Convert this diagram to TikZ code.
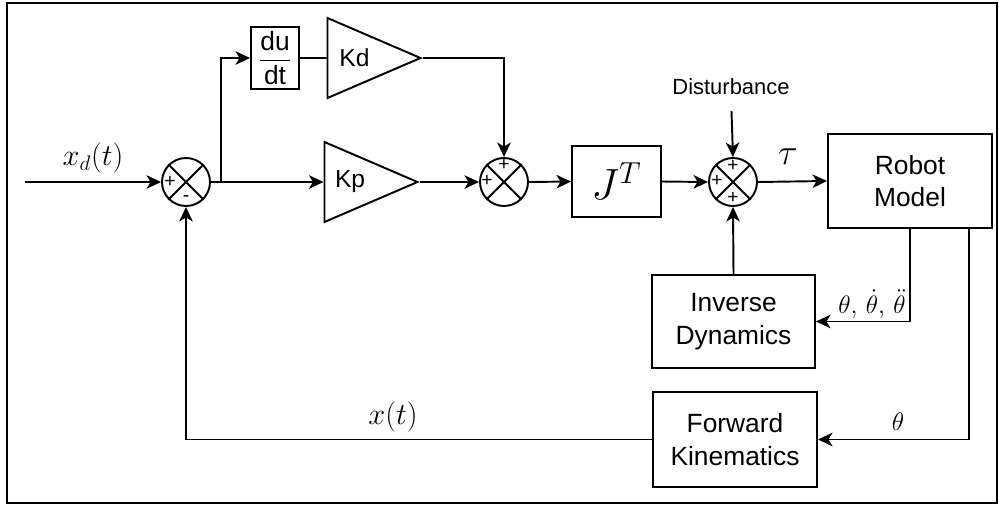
\documentclass[tikz,border=0pt]{standalone}
\usepackage{amsmath}
\usepackage{fontspec}
\newfontfamily\sansf{Liberation Sans}
\usetikzlibrary{arrows.meta, shapes.geometric}

\begin{document}
\begin{tikzpicture}[
  x=0.2mm, y=-0.2mm,
  line width=1.1pt,
  >={Stealth[length=2.9mm, width=2.7mm, inset=0.8mm]},
  blk/.style={draw, rectangle, inner sep=0pt, align=center,
              font=\sansf\fontsize{15}{18.6}\selectfont},
  gain/.style={draw, isosceles triangle, isosceles triangle stretches,
               minimum width=16mm, minimum height=18.6mm, inner sep=0pt,
               font=\sansf\fontsize{14}{16}\selectfont},
  sumjn/.style={draw, circle, minimum size=9.6mm, inner sep=0pt},
  sgn/.style={inner sep=0pt, font=\sansf\fontsize{11}{11}\selectfont},
  lbl/.style={inner sep=0pt, font=\fontsize{17}{19}\selectfont}
]
  \useasboundingbox (0, 0) rectangle (999, 506);

  \node[sumjn] (sum1) at (186, 182) {};
  \node[sumjn] (sum2) at (504, 182) {};
  \node[sumjn] (sum3) at (733, 182) {};
  \foreach \s in {sum1, sum2, sum3}
    \draw (\s.north east) -- (\s.south west) (\s.north west) -- (\s.south east);

  \node[sgn] (p1a) at (170, 182) {+};
  \node[sgn] (m1b) at (186, 199) {-};
  \node[sgn] (p2a) at (487, 181) {+};
  \node[sgn] (p2b) at (504, 165) {+};
  \node[sgn] (p3a) at (717, 181) {+};
  \node[sgn] (p3b) at (733, 166) {+};
  \node[sgn] (p3c) at (733, 198) {+};

  \node[gain, anchor=apex] (kd) at (423, 58) {Kd};
  \node[gain, anchor=apex] (kp) at (420, 182) {Kp};

  \node[blk, minimum width=9.6mm, minimum height=12.4mm,
        font=\sansf\fontsize{15}{17}\selectfont] (ddt) at (275, 58) {$\dfrac{\text{du}}{\text{dt}}$};
  \node[blk, minimum width=17.8mm, minimum height=14.2mm,
        font=\fontsize{25}{29}\selectfont] (jt) at (616.5, 181.5) {$J^T$};
  \node[blk, minimum width=32.8mm, minimum height=18.8mm] (rm)  at (910, 181)     {Robot\\Model};
  \node[blk, minimum width=32.6mm, minimum height=18.6mm] (inv) at (733.5, 321.5) {Inverse\\Dynamics};
  \node[blk, minimum width=32.8mm, minimum height=19mm]   (fk)  at (735, 439.5)   {Forward\\Kinematics};

  \coordinate (in) at (25, 182);
  \coordinate (br) at (221, 182);
  \node[lbl] (xd) at (93, 158) {$x_d(t)$};
  \node[inner sep=0pt, font=\sansf\fontsize{12.5}{14}\selectfont] (dist) at (731, 87) {Disturbance};
  \node[lbl, font=\fontsize{20}{22}\selectfont] (tau) at (788, 157) {$\tau$};
  \node[lbl, font=\fontsize{14}{16}\selectfont] (thall) at (872, 304) {$\theta,\,\dot{\theta},\,\ddot{\theta}$};
  \node[lbl, font=\fontsize{14}{16}\selectfont] (th) at (898, 422) {$\theta$};
  \node[lbl] (xt) at (393, 417) {$x(t)$};

  \draw[->] (in) -- (sum1.west);
  \draw[->] (sum1.east) -- (kp.west);
  \draw[->] (br) |- (ddt.west);
  \draw (ddt.east) -- (kd.west);
  \draw[->] (kd.apex) -| (sum2.north);
  \draw[->] (kp.apex) -- (sum2.west);
  \draw[->] (sum2.east) -- (jt.west);
  \draw[->] (jt.east) -- (sum3.west);
  \draw[->, shorten <=3mm] (dist.south) -- (sum3.north);
  \draw[->] (sum3.east) -- (rm.west);
  \draw[->] (inv.north) -- (sum3.south);
  \draw[->] (rm.south) |- (inv.east);
  \draw[->] ([xshift=11.8mm]rm.south) |- (fk.east);
  \draw[->] (fk.west) -| (sum1.south);

  % outer frame
  \draw[line width=0.9pt] (7, 3) rectangle (997, 503);
\end{tikzpicture}
\end{document}
